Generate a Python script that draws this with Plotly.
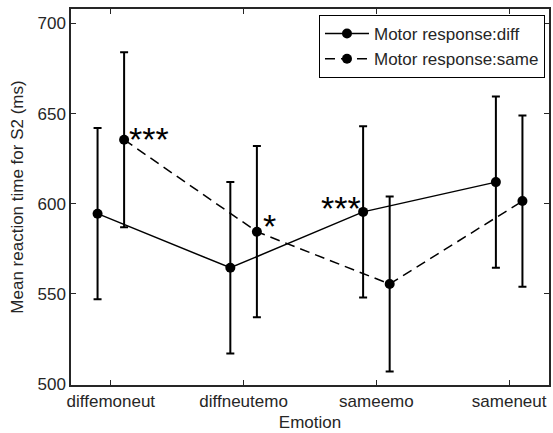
import plotly.graph_objects as go

categories = ["diffemoneut", "diffneutemo", "sameemo", "sameneut"]
diff_mean = [594.5, 564.5, 595.5, 612.0]
diff_err = [47.5, 47.5, 47.5, 47.5]
same_mean = [635.5, 584.5, 555.5, 601.5]
same_err = [48.5, 47.5, 48.5, 47.5]
y_ticks = [500, 550, 600, 650, 700]

idx = list(range(1, len(categories) + 1))
x_diff = [i - 0.1 for i in idx]
x_same = [i + 0.1 for i in idx]

FONT = "Liberation Sans, Arial, sans-serif"
AX = "#262626"

fig = go.Figure()
fig.add_trace(go.Scatter(
    x=x_diff, y=diff_mean, mode="lines+markers", name="Motor response:diff",
    line=dict(color="black", width=1.5),
    marker=dict(color="black", size=10),
    error_y=dict(type="data", array=diff_err, color="black", thickness=2, width=4),
))
fig.add_trace(go.Scatter(
    x=x_same, y=same_mean, mode="lines+markers", name="Motor response:same",
    line=dict(color="black", width=1.5, dash="10px,6px"),
    marker=dict(color="black", size=10),
    error_y=dict(type="data", array=same_err, color="black", thickness=2, width=4),
))

stars = [
    dict(x=x_same[0] + 0.02, y=same_mean[0] + 0.5, text="***", xanchor="left"),
    dict(x=x_same[1] + 0.03, y=same_mean[1] + 3, text="*", xanchor="left"),
    dict(x=x_diff[2] - 0.0, y=diff_mean[2] + 2, text="***", xanchor="right"),
]
for s in stars:
    fig.add_annotation(x=s["x"], y=s["y"], text=s["text"], xanchor=s["xanchor"],
                       yanchor="middle", showarrow=False,
                       font=dict(family=FONT, size=34, color="black"))

fig.update_layout(
    width=553, height=433,
    margin=dict(l=71, r=4, t=9, b=48),
    paper_bgcolor="white", plot_bgcolor="white",
    font=dict(family=FONT, size=17, color="#262626"),
    showlegend=True,
    legend=dict(x=0.9916, y=0.984, xanchor="right", yanchor="top",
                bordercolor="black", borderwidth=1, bgcolor="white",
                font=dict(family=FONT, size=17, color="#262626"),
                tracegroupgap=0, itemwidth=44),
)
fig.update_xaxes(
    range=[0.7, 4.3], tickvals=idx, ticktext=categories, automargin=False,
    showline=True, linecolor=AX, linewidth=1.5, mirror="ticks",
    ticks="inside", ticklen=5, tickcolor=AX, showgrid=False, zeroline=False,
    tickfont=dict(size=17),
    title=dict(text="Emotion", standoff=6, font=dict(size=17)),
)
fig.update_yaxes(
    range=[499.5, 708], tickvals=y_ticks, automargin=False,
    showline=True, linecolor=AX, linewidth=1.5, mirror="ticks",
    ticks="inside", ticklen=5, tickcolor=AX, showgrid=False, zeroline=False,
    tickfont=dict(size=17),
    title=dict(text="Mean reaction time for S2 (ms)", standoff=10, font=dict(size=17)),
)

fig.write_html("out.html", config={"displayModeBar": False},
               post_script="document.body.style.margin='0';")
